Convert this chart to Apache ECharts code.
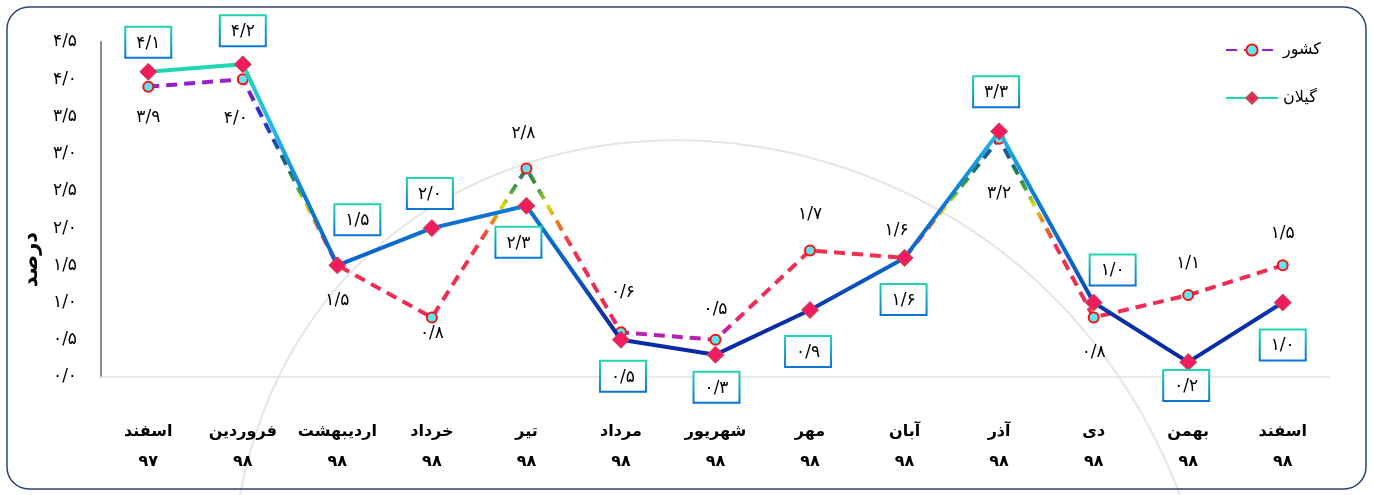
<!DOCTYPE html>
<html>
<head>
<meta charset="utf-8">
<script src="https://cdn.jsdelivr.net/npm/echarts@6/dist/echarts.min.js"></script>
<style>
html,body{margin:0;padding:0;background:#fff;}
#chart{width:1374px;height:495px;}
</style>
</head>
<body>
<div id="chart"></div>
<script>
// ---- data ----
const months = ['اسفند','فروردین','اردیبهشت','خرداد','تیر','مرداد','شهریور','مهر','آبان','آذر','دی','بهمن','اسفند'];
const years = ['۹۷','۹۸','۹۸','۹۸','۹۸','۹۸','۹۸','۹۸','۹۸','۹۸','۹۸','۹۸','۹۸'];
const countryName = 'کشور';
const gilanName = 'گیلان';
const countryValues = [3.9, 4.0, 1.5, 0.8, 2.8, 0.6, 0.5, 1.7, 1.6, 3.2, 0.8, 1.1, 1.5];
const gilanValues = [4.1, 4.2, 1.5, 2.0, 2.3, 0.5, 0.3, 0.9, 1.6, 3.3, 1.0, 0.2, 1.0];
const yMin = 0, yMax = 4.5, yStep = 0.5;
const yAxisTitle = 'درصد';

// ---- label placement (style only) ----
const countryLabelPlace = [
  ['bottom',0,11],['bottom',-7,20],['bottom',0,16],['bottom',0,-3],['top',-3,-15],
  ['top',2,-20],['top',0,-11],['top',0,-16],['top',-8,-8],['bottom',0,35],
  ['bottom',0,16],['top',0,-12],['top',0,-12]
];
const gilanLabelPlace = [
  ['top',0,-1],['top',0,-5],['top',20,-17],['top',-2,-6],['bottom',-8,8],
  ['bottom',2,8],['bottom',1,4],['bottom',-2,13],['bottom',-1,13],['top',-3,-11],
  ['top',19,-4],['bottom',-2,-5],['bottom',0,14]
];

const fa = '۰۱۲۳۴۵۶۷۸۹';
function toFa(v){
  return v.toFixed(1).replace('.', '/').replace(/[0-9]/g, d => fa[+d]);
}

const FONT = 'DejaVu Sans';

const countryGrad = {
  type:'linear', global:true, x:0, y:0, x2:0, y2:495,
  colorStops:[
    {offset:0.00, color:'#9a1fc8'},
    {offset:0.165, color:'#9a1fc8'},
    {offset:0.23, color:'#2a2ae0'},
    {offset:0.285, color:'#1c4cb8'},
    {offset:0.34, color:'#1e7060'},
    {offset:0.385, color:'#4aa83a'},
    {offset:0.415, color:'#dede10'},
    {offset:0.45, color:'#f07a20'},
    {offset:0.495, color:'#f0304e'},
    {offset:0.64, color:'#f02a5a'},
    {offset:0.675, color:'#b820b0'},
    {offset:1.00, color:'#a818b8'}
  ]
};
const gilanGrad = {
  type:'linear', global:true, x:0, y:0, x2:0, y2:495,
  colorStops:[
    {offset:0.00, color:'#1ed8b0'},
    {offset:0.13, color:'#1ed8b0'},
    {offset:0.265, color:'#22b8e6'},
    {offset:0.40, color:'#0c7ad6'},
    {offset:0.54, color:'#0a62c8'},
    {offset:0.645, color:'#0a2ea8'},
    {offset:1.00, color:'#0a1a9a'}
  ]
};
const boxBorder = {
  type:'linear', x:0, y:0, x2:0, y2:1,
  colorStops:[{offset:0, color:'#1ed8b0'},{offset:1, color:'#0a72d6'}]
};

const chart = echarts.init(document.getElementById('chart'));
chart.setOption({
  backgroundColor:'#ffffff',
  animation:false,
  textStyle:{fontFamily:FONT},
  graphic:[
    {type:'bezierCurve', z:0, silent:true,
      shape:{x1:240,y1:495,cpx1:330,cpy1:22,cpx2:1000,cpy2:22,x2:1180,y2:495},
      style:{stroke:'#e6e6e6', lineWidth:2, fill:null}},
    {type:'rect', z:100, silent:true,
      shape:{x:7,y:7,width:1359,height:482,r:22},
      style:{fill:null, stroke:'#2a4470', lineWidth:1.5}}
  ],
  legend:{
    orient:'vertical', left:1220, top:37, itemWidth:52, itemHeight:14, itemGap:32,
    textStyle:{fontFamily:FONT, fontSize:16, color:'#000'},
    data:[countryName, gilanName]
  },
  grid:{left:101, right:44, top:42, bottom:118},
  xAxis:{
    type:'category', boundaryGap:true,
    data: months.map((m,i) => m + '\n' + years[i]),
    axisLine:{show:true, lineStyle:{color:'#e2e2e2', width:1.5}},
    axisTick:{show:false},
    axisLabel:{fontFamily:FONT, fontSize:16, fontWeight:'bold', color:'#000', margin:40, lineHeight:30, interval:0}
  },
  yAxis:{
    type:'value', min:yMin, max:yMax, interval:yStep,
    name:yAxisTitle, nameLocation:'middle', nameGap:52, nameRotate:90,
    nameTextStyle:{fontFamily:FONT, fontSize:21, fontWeight:'bold', color:'#000', padding:[0,100,0,0]},
    axisLine:{show:true, lineStyle:{color:'#8c8c8c', width:2}},
    axisTick:{show:false},
    splitLine:{show:false},
    axisLabel:{fontFamily:FONT, fontSize:17, color:'#000', margin:24, formatter:v => toFa(v)}
  },
  series:[
    {
      name:countryName, type:'line',
      data: countryValues.map((v,i) => ({
        value:v,
        label:{position:countryLabelPlace[i][0], offset:[countryLabelPlace[i][1], countryLabelPlace[i][2]]}
      })),
      symbol:'circle', symbolSize:10,
      lineStyle:{color:countryGrad, width:4, type:[11,7], cap:'butt'},
      itemStyle:{color:'#5ce8f0', borderColor:'#ff1010', borderWidth:2},
      label:{show:true, fontFamily:FONT, fontSize:17, color:'#000', formatter:p => toFa(p.value)},
      z:2
    },
    {
      name:gilanName, type:'line',
      data: gilanValues.map((v,i) => ({
        value:v,
        label:{position:gilanLabelPlace[i][0], offset:[gilanLabelPlace[i][1], gilanLabelPlace[i][2]]}
      })),
      symbol:'diamond', symbolSize:17,
      lineStyle:{color:gilanGrad, width:4},
      itemStyle:{color:'#f01c60', borderColor:'#b8504a', borderWidth:1},
      label:{show:true, fontFamily:FONT, fontSize:17, color:'#000',
        backgroundColor:'#fff', borderColor:boxBorder, borderWidth:2,
        padding:[7,10,5,10], formatter:p => toFa(p.value)},
      z:3
    }
  ]
});
</script>
</body>
</html>
